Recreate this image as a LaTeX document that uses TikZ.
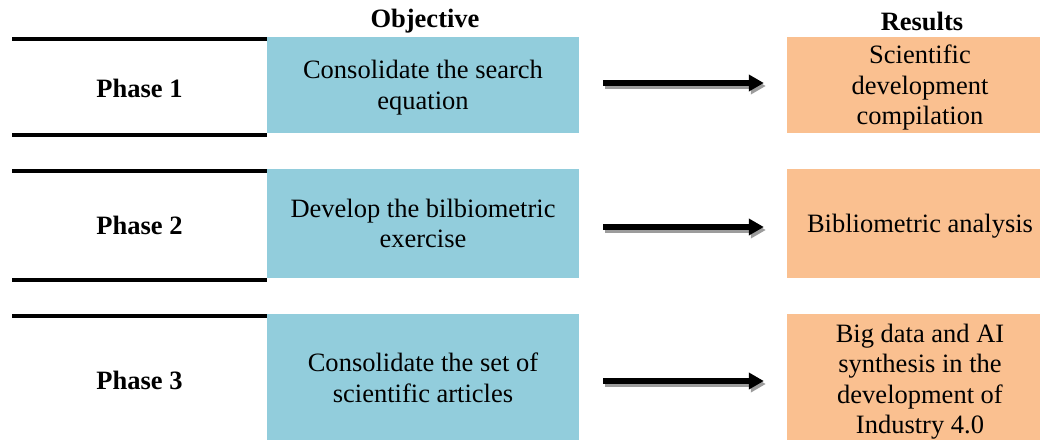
\documentclass[tikz,border=0pt]{standalone}
\usepackage{fontspec}
\setmainfont{Liberation Serif}
\usetikzlibrary{arrows.meta}
\definecolor{objblue}{HTML}{92CDDC}
\definecolor{resorange}{HTML}{FAC090}
\definecolor{shadowgray}{HTML}{9C9C9C}
\tikzset{
  txt/.style={font=\fontsize{26.5}{30.5}\selectfont, align=center, inner sep=0pt},
  head/.style={txt, font=\fontsize{26.5}{30.5}\selectfont\bfseries},
  phase/.style={txt, font=\fontsize{26.5}{30.5}\selectfont\bfseries},
  objbox/.style={txt, fill=objblue, minimum width=312pt, text depth=0pt},
  resbox/.style={txt, fill=resorange, minimum width=266pt, text depth=0pt},
  rowrule/.style={line width=4pt},
  arrmain/.style={line width=5.5pt, draw=black, -{Triangle[length=15pt,width=16pt]}, shorten <=24pt, shorten >=23pt},
  arrshadow/.style={arrmain, draw=shadowgray, transform canvas={xshift=2pt,yshift=-3pt}}
}
\begin{document}
\begin{tikzpicture}[x=1pt,y=-1pt]
\useasboundingbox (0,0) rectangle (1040,439);
\clip (0,0) rectangle (1040,439);
% headers
\node[head] (hobj) at (425,21) {Objective};
\node[head] (hres) at (922,21) {Results};
% boxes
\node[objbox, minimum height=96pt] (b1) at (423,85) {Consolidate the search\\equation};
\node[objbox, minimum height=109pt] (b2) at (423,223.5) {Develop the bilbiometric\\exercise};
\node[objbox, minimum height=127pt] (b3) at (423,377.5) {Consolidate the set of\\scientific articles};
\node[resbox, minimum height=96pt] (o1) at (920,85) {Scientific\\development\\compilation};
\node[resbox, minimum height=109pt] (o2) at (920,223.5) {Bibliometric analysis};
\node[resbox, minimum height=130pt] (o3) at (920,379) {Big data and AI\\synthesis in the\\development of\\Industry 4.0};
% phases
\node[phase] (p1) at (139.5,88) {Phase 1};
\node[phase] (p2) at (139.5,225) {Phase 2};
\node[phase] (p3) at (139.5,380) {Phase 3};
% rules
\draw[rowrule] (12,39) -- (267,39);
\draw[rowrule] (12,135) -- (267,135);
\draw[rowrule] (12,171) -- (267,171);
\draw[rowrule] (12,280) -- (267,280);
\draw[rowrule] (12,316) -- (267,316);
% arrows
\draw[arrshadow] ([yshift=2pt]b1.east) -- ([yshift=2pt]o1.west);
\draw[arrmain] ([yshift=2pt]b1.east) -- ([yshift=2pt]o1.west);
\draw[arrshadow] ([yshift=-3.5pt]b2.east) -- ([yshift=-3.5pt]o2.west);
\draw[arrmain] ([yshift=-3.5pt]b2.east) -- ([yshift=-3.5pt]o2.west);
\draw[arrshadow] ([yshift=-3.5pt]b3.east) -- ([yshift=-2pt]o3.west);
\draw[arrmain] ([yshift=-3.5pt]b3.east) -- ([yshift=-2pt]o3.west);
\end{tikzpicture}
\end{document}
